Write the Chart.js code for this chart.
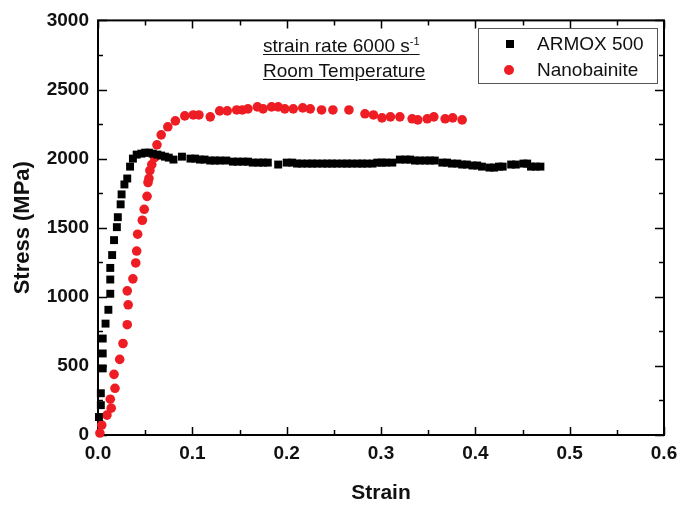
<!DOCTYPE html>
<html>
<head>
<meta charset="utf-8">
<script src="https://cdn.jsdelivr.net/npm/chart.js@4/dist/chart.umd.min.js"></script>
<style>
  html, body { margin: 0; padding: 0; background: #fff; }
  #wrap { position: relative; width: 680px; height: 508px; font-family: "Liberation Sans", Arial, sans-serif; }
  #note { position: absolute; left: 263px; top: 33px; font-size: 19px; line-height: 25px; color: #111; }
  #note span { text-decoration: underline; text-underline-offset: 2px; }
  #note sup { font-size: 11px; vertical-align: 7px; line-height: 0; }
  #legend { position: absolute; left: 478px; top: 28px; width: 178px; height: 54px; border: 1px solid #555; background: #fff; font-size: 19px; color: #111; }
  .row { position: absolute; left: 0; height: 24px; line-height: 24px; }
  .row .lbl { position: absolute; left: 58px; white-space: nowrap; }
  .sq { position: absolute; left: 27px; top: 8px; width: 8px; height: 8px; background: #000; }
  .dot { position: absolute; left: 25px; top: 7px; width: 10px; height: 10px; border-radius: 50%; background: #ee1d24; }
</style>
</head>
<body>
<div id="wrap">
  <canvas id="c" width="680" height="508"></canvas>
  <div id="note"><span>strain rate 6000 s<sup>-1</sup></span><br><span>Room Temperature</span></div>
  <div id="legend">
    <div class="row" style="top:3px"><i class="sq"></i><span class="lbl">ARMOX 500</span></div>
    <div class="row" style="top:29px"><i class="dot"></i><span class="lbl">Nanobainite</span></div>
  </div>
</div>
<script>
"use strict";

const SERIES_NAMES = ["ARMOX 500", "Nanobainite"];
const X_TICKS = [0, 0.1, 0.2, 0.3, 0.4, 0.5, 0.6];
const Y_TICKS = [0, 500, 1000, 1500, 2000, 2500, 3000];

// ARMOX 500: steep elastic rise, then a dense plateau near 2000 MPa
const armoxStrain = [0.001, 0.003, 0.003, 0.005, 0.005, 0.005, 0.008, 0.011, 0.013, 0.013, 0.013,
    0.015, 0.017, 0.020, 0.021, 0.024, 0.025, 0.028, 0.031, 0.034,
    0.037, 0.041, 0.046, 0.050, 0.054, 0.058, 0.063, 0.067, 0.071, 0.075, 0.080, 0.089,
    0.098, 0.103, 0.108, 0.113, 0.119, 0.124, 0.129, 0.136, 0.143, 0.148, 0.154, 0.159,
    0.164, 0.170, 0.175, 0.180, 0.191, 0.200, 0.206, 0.211, 0.216, 0.222, 0.227, 0.232,
    0.238, 0.243, 0.248, 0.253, 0.259, 0.264, 0.269, 0.275, 0.280, 0.285, 0.291, 0.296,
    0.301, 0.305, 0.312, 0.320, 0.326, 0.331, 0.336, 0.341, 0.347, 0.352, 0.357, 0.365,
    0.370, 0.375, 0.381, 0.386, 0.391, 0.397, 0.402, 0.407, 0.415, 0.420, 0.425, 0.429,
    0.438, 0.443, 0.451, 0.455, 0.459, 0.464, 0.469];
const armoxStress = [130, 216, 302, 482, 590, 698, 806, 906, 1022, 1125, 1209,
    1302, 1410, 1504, 1576, 1669, 1741, 1813, 1856, 1942,
    2000, 2029, 2036, 2043, 2043, 2036, 2029, 2022, 2014, 2007, 1993, 2014,
    2000, 2000, 1993, 1993, 1986, 1986, 1986, 1986, 1978, 1978, 1978, 1978,
    1971, 1971, 1971, 1971, 1957, 1971, 1971, 1964, 1964, 1964, 1964, 1964,
    1964, 1964, 1964, 1964, 1964, 1964, 1964, 1964, 1964, 1964, 1964, 1971,
    1971, 1971, 1971, 1993, 1993, 1993, 1986, 1986, 1986, 1986, 1986, 1971,
    1971, 1964, 1964, 1957, 1957, 1950, 1950, 1942, 1935, 1935, 1942, 1942,
    1957, 1957, 1964, 1964, 1942, 1942, 1942];

const nanoStrain = [0.002, 0.004, 0.0095, 0.013, 0.014, 0.017, 0.018, 0.023, 0.0265, 0.031, 0.032,
    0.031, 0.037, 0.040, 0.041, 0.042, 0.047, 0.049, 0.052, 0.053, 0.054, 0.055, 0.057, 0.060,
    0.0625, 0.067, 0.074, 0.082, 0.092, 0.101, 0.107, 0.119, 0.129, 0.137, 0.147, 0.153, 0.159,
    0.169, 0.175, 0.184, 0.191, 0.198, 0.207, 0.217, 0.225, 0.237, 0.249, 0.266, 0.283, 0.292,
    0.301, 0.310, 0.320, 0.333, 0.339, 0.349, 0.356, 0.368, 0.376, 0.386];
const nanoStress = [14, 72, 144, 259, 194, 439, 338, 547, 662, 798, 942,
    1043, 1130, 1245, 1331, 1453, 1554, 1633, 1727, 1827, 1856, 1914, 1957, 2007,
    2100, 2172, 2230, 2273, 2309, 2316, 2316, 2302, 2345, 2345, 2352, 2352, 2360,
    2374, 2360, 2374, 2374, 2360, 2360, 2367, 2360, 2352, 2352, 2352, 2324, 2316,
    2295, 2302, 2302, 2288, 2280, 2288, 2302, 2288, 2295, 2280];

const pairs = (xs, ys) => xs.map((x, i) => ({ x, y: ys[i] }));

// frame with inward major/minor ticks on all four sides
const frame = {
    id: "frame",
    beforeDatasetsDraw(chart) {
        const { ctx, chartArea: a, scales: { x, y } } = chart;
        ctx.save();
        ctx.strokeStyle = "#000";
        ctx.lineWidth = 1.5;
        ctx.beginPath();
        for (let v = 0; v <= 0.6001; v += 0.05) {
            const px = Math.round(x.getPixelForValue(v)) + 0.5;
            const len = Math.abs(v * 10 - Math.round(v * 10)) < 1e-6 ? 8 : 5;
            ctx.moveTo(px, a.bottom); ctx.lineTo(px, a.bottom - len);
            ctx.moveTo(px, a.top); ctx.lineTo(px, a.top + len);
        }
        for (let v = 0; v <= 3000; v += 250) {
            const py = Math.round(y.getPixelForValue(v)) + 0.5;
            const len = v % 500 === 0 ? 9 : 5;
            ctx.moveTo(a.left, py); ctx.lineTo(a.left + len, py);
            ctx.moveTo(a.right, py); ctx.lineTo(a.right - len, py);
        }
        ctx.stroke();
        ctx.lineWidth = 2;
        ctx.strokeRect(a.left, a.top, a.right - a.left, a.bottom - a.top);
        ctx.restore();
    }
};

const tickFont = { family: "'Liberation Sans', Arial, sans-serif", size: 19, weight: "bold" };
const titleFont = { family: "'Liberation Sans', Arial, sans-serif", size: 21, weight: "bold" };

new Chart(document.getElementById("c"), {
    type: "scatter",
    data: {
        datasets: [
            {
                label: SERIES_NAMES[0],
                data: pairs(armoxStrain, armoxStress),
                pointStyle: "rect",
                pointRadius: 5.6,
                backgroundColor: "#000",
                borderWidth: 0,
                clip: false
            },
            {
                label: SERIES_NAMES[1],
                data: pairs(nanoStrain, nanoStress),
                pointStyle: "circle",
                pointRadius: 4.8,
                backgroundColor: "#ee1d24",
                borderWidth: 0,
                clip: false
            }
        ]
    },
    options: {
        responsive: false,
        animation: false,
        layout: { padding: { top: 18, right: 16, left: 0, bottom: 0 } },
        plugins: { legend: { display: false }, tooltip: { enabled: false } },
        scales: {
            x: {
                type: "linear", min: 0, max: 0.6,
                afterBuildTicks: s => { s.ticks = X_TICKS.map(v => ({ value: v })); },
                afterFit: s => { s.height = 73; s.paddingRight = 0; },
                grid: { display: false, drawTicks: false },
                border: { display: false },
                ticks: { color: "#111", font: tickFont, padding: 7, maxRotation: 0, callback: v => v.toFixed(1) },
                title: { display: true, text: "Strain", color: "#111", font: titleFont, padding: { top: 2, bottom: 2 } }
            },
            y: {
                type: "linear", min: 0, max: 3000,
                afterBuildTicks: s => { s.ticks = Y_TICKS.map(v => ({ value: v })); },
                afterFit: s => { s.width = 98; },
                grid: { display: false, drawTicks: false },
                border: { display: false },
                ticks: { color: "#111", font: tickFont, padding: 9, callback: v => String(v) },
                title: { display: true, text: "Stress (MPa)", color: "#111", font: { ...titleFont, size: 22 }, padding: { top: 10, bottom: 8 } }
            }
        }
    },
    plugins: [frame]
});
</script>
</body>
</html>
